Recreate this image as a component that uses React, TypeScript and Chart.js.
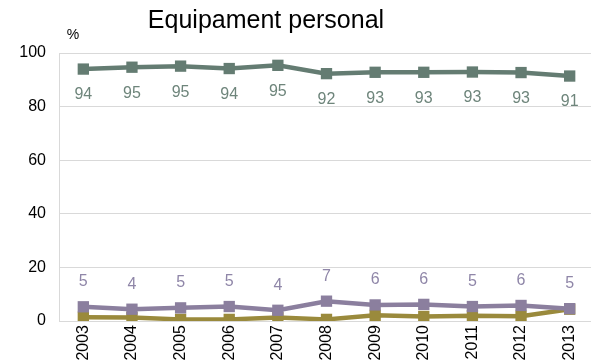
import React, { useEffect, useRef } from "react";
import { Chart, registerables } from "chart.js";

Chart.register(...registerables);

const years = ["2003", "2004", "2005", "2006", "2007", "2008", "2009", "2010", "2011", "2012", "2013"];
const seriesGreen = [94, 94.7, 95.1, 94.2, 95.4, 92.3, 92.8, 92.8, 92.9, 92.7, 91.4];
const seriesPurple = [5.3, 4.4, 4.9, 5.4, 4.0, 7.4, 6.0, 6.2, 5.4, 5.8, 4.6];
const seriesOlive = [1.4, 1.3, 0.6, 0.6, 1.3, 0.6, 2.1, 1.7, 2.0, 1.8, 4.4];
const yTicks = [0, 20, 40, 60, 80, 100];
const titleText = "Equipament personal";
const unitText = "%";

const GREEN = "#647C72";
const PURPLE = "#8B7F9E";
const OLIVE = "#9A8A3C";
const FONT = "'Liberation Sans', Arial, sans-serif";

const overlayPlugin = {
  id: "overlay",
  afterDatasetsDraw(chart: any) {
    const { ctx } = chart;
    ctx.save();
    ctx.font = `25px ${FONT}`;
    ctx.fillStyle = "#000";
    ctx.textAlign = "center";
    ctx.textBaseline = "alphabetic";
    ctx.fillText(titleText, 266, 28);
    ctx.font = `14px ${FONT}`;
    ctx.textBaseline = "middle";
    ctx.fillText(unitText, 73, 35);

    const drawLabels = (dsIndex: number, color: string, dy: number) => {
      const meta = chart.getDatasetMeta(dsIndex);
      const data = chart.data.datasets[dsIndex].data as number[];
      ctx.font = `16px ${FONT}`;
      ctx.fillStyle = color;
      ctx.textAlign = "center";
      ctx.textBaseline = "middle";
      meta.data.forEach((pt: any, i: number) => {
        ctx.fillText(String(Math.round(data[i])), pt.x, pt.y + dy);
      });
    };
    drawLabels(0, "#6E857B", 26);
    drawLabels(1, "#8F86A8", -25);
    ctx.restore();
  },
};

export default function App() {
  const ref = useRef<HTMLCanvasElement>(null);
  useEffect(() => {
    if (!ref.current) return;
    const mk = (label: string, data: number[], color: string) => ({
      label,
      data,
      borderColor: color,
      backgroundColor: color,
      borderWidth: 4.5,
      pointStyle: "rect" as const,
      pointRadius: 8,
      pointBorderWidth: 0,
      tension: 0,
    });
    const chart = new Chart(ref.current, {
      type: "line",
      data: {
        labels: years,
        datasets: [
          mk("A", seriesGreen, GREEN),
          mk("B", seriesPurple, PURPLE),
          mk("C", seriesOlive, OLIVE),
        ],
      },
      options: {
        animation: false,
        responsive: false,
        maintainAspectRatio: false,
        devicePixelRatio: 1,
        layout: { padding: { top: 53, right: 0, left: 0, bottom: 0 } },
        plugins: {
          legend: { display: false },
          tooltip: { enabled: false },
          title: { display: false },
        },
        scales: {
          x: {
            offset: true,
            grid: { display: false, drawTicks: false },
            border: { display: true, color: "#D9D9D9", width: 1 },
            ticks: {
              color: "#000",
              font: { family: FONT, size: 16 },
              maxRotation: 90,
              minRotation: 90,
              padding: 4,
              autoSkip: false,
            },
            afterFit: (s: any) => {
              s.height = 42;
            },
          },
          y: {
            min: 0,
            max: 100,
            afterBuildTicks: (s: any) => {
              s.ticks = yTicks.map((v) => ({ value: v }));
            },
            grid: { color: "#D9D9D9", lineWidth: 1, drawTicks: false },
            border: { display: true, color: "#D9D9D9", width: 1 },
            ticks: {
              color: "#000",
              font: { family: FONT, size: 16 },
              padding: 13,
            },
            afterFit: (s: any) => {
              s.width = 59;
            },
          },
        },
      },
      plugins: [overlayPlugin],
    });
    return () => chart.destroy();
  }, []);
  return (
    <div style={{ position: "fixed", left: 0, top: 0, width: 591, height: 363, overflow: "hidden", background: "#fff" }}>
      <canvas ref={ref} width={602} height={363} style={{ width: 602, height: 363, display: "block" }} />
    </div>
  );
}
